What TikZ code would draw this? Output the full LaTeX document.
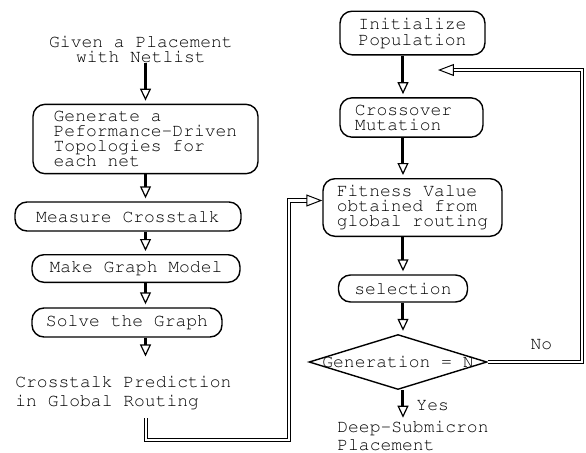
\documentclass[tikz,border=0pt]{standalone}
\usepackage[T1]{fontenc}
\usetikzlibrary{positioning,arrows.meta,shapes.geometric}
\newcommand*{\diagfont}{\fontfamily{pcr}\fontsize{9}{7.5}\selectfont}
\tikzset{%
  box/.style={draw, rectangle, rounded corners=6pt, line width=0.7pt, font=\diagfont, align=left},% process step
  decision/.style={draw, diamond, line width=0.7pt, minimum width=89pt, minimum height=27.5pt, inner sep=0pt},% test
  txt/.style={font=\diagfont, align=left, inner sep=0pt},% free text
  flow/.style={line width=1.5pt, shorten >=1.5pt,
    -{Triangle[open, length=6pt, width=5.5pt, line width=0.6pt]}},% step to step
  feedback/.style={double, double distance=1.3pt, line width=0.5pt,
    -{Triangle[open, length=8pt, width=6pt, line width=0.5pt]}}% long return line
}
\begin{document}
\begin{tikzpicture}[x=0.5pt, y=-0.5pt]
\useasboundingbox (0,0) rectangle (586,452);

% crosstalk prediction
\node[txt, align=center] (given) at (141,49) {Given a Placement\\with Netlist};
\node[box, minimum width=112.5pt, minimum height=34pt] (topo) at (145.5,139)
  {Generate a\\Peformance-Driven\\Topologies for\\each net};
\node[box, minimum width=113pt, minimum height=14.5pt] (meas) at (128,216.5) {Measure Crosstalk};
\node[box, minimum width=104pt, minimum height=13.5pt] (model) at (136,268.5) {Make Graph Model};
\node[box, minimum width=95pt, minimum height=14.5pt] (solve) at (127,322.5) {Solve the Graph};
\node[txt, anchor=west, font=\fontfamily{pcr}\fontsize{9}{9.5}\selectfont] (pred) at (15,392.5)
  {Crosstalk Prediction\\in Global Routing};

\draw[flow] (given.south -| topo.north) -- (topo.north);
\draw[flow] (topo.south) -- (topo.south |- meas.north);
\draw[flow] (meas.south -| topo.south) -- (model.north -| topo.south);
\draw[flow] (model.south -| topo.south) -- (solve.north -| topo.south);
\draw[flow] (solve.south -| topo.south) -- ([yshift=8pt]pred.north -| topo.south);

% genetic algorithm
\node[box, align=center, minimum width=72.5pt, minimum height=20pt,
  font=\fontfamily{pcr}\fontsize{9}{8}\selectfont] (init) at (412.5,33) {Initialize\\Population};
\node[box, text width=56.5pt, inner xsep=7.5pt, minimum height=19.5pt] (cross) at (411.5,117.5)
  {Crossover\\Mutation};
\node[box, minimum width=89.5pt, minimum height=27.5pt] (fit) at (412.5,207.5)
  {Fitness Value\\obtained from\\global routing};
\node[box, minimum width=64.5pt, minimum height=13.5pt] (sel) at (403,288.5) {selection};
\node[decision, label={[txt]center:Generation = N}] (test) at (398,362) {};
\node[txt, anchor=west, font=\fontfamily{pcr}\fontsize{9}{9}\selectfont] (deep) at (337,436)
  {Deep-Submicron\\Placement};
\coordinate (back) at (438,70);

\draw[flow] (init.south -| sel.north) -- (cross.north -| sel.north);
\draw[flow] (cross.south -| sel.north) -- (fit.north -| sel.north);
\draw[flow] (fit.south -| sel.north) -- (sel.north);
\draw[flow] (sel.south) -- (sel.south |- test.north);
\draw[flow] (test.south -| sel.south) -- node[txt, right=6pt] {Yes} (deep.north -| sel.south);

% return lines
\coordinate (out) at (146,418);
\draw[feedback] (out) -- (146,440) -| (289,300) |- ([yshift=3.5pt]fit.west);
\draw[feedback] (test.east) -- node[txt, above=6pt, pos=0.57] {No} (582,362) |- (back);
\end{tikzpicture}
\end{document}
